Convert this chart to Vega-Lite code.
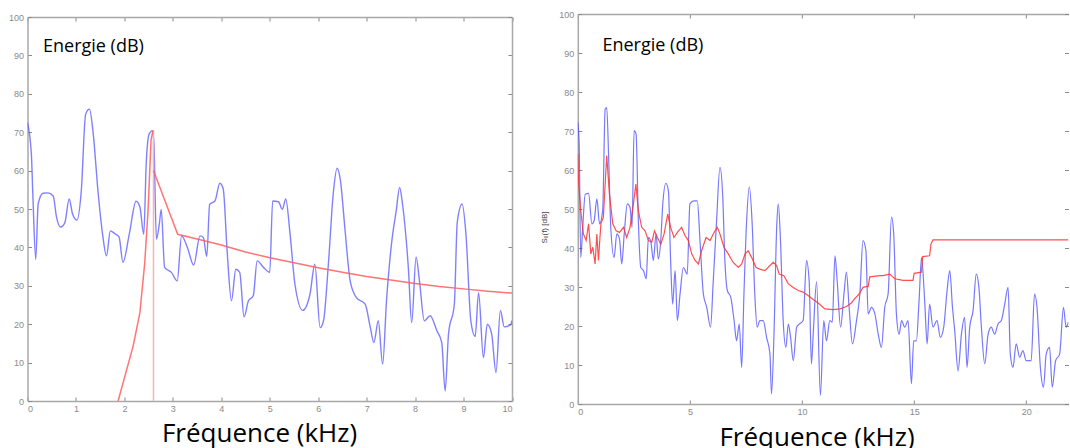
{
  "$schema": "https://vega.github.io/schema/vega-lite/v6.json",
  "background": "white",
  "padding": {"left": 7.5, "top": 10, "right": 0, "bottom": 0},
  "bounds": "flush",
  "center": true,
  "spacing": 65.3,
  "config": {
    "view": {"stroke": null},
    "axis": {
      "grid": false,
      "domainColor": "#a8a8a8",
      "domainWidth": 1.5,
      "tickColor": "#8a8a8a",
      "tickSize": -4,
      "tickWidth": 1,
      "labelColor": "#8a8a8a",
      "labelFont": "Liberation Sans",
      "labelFontSize": 9,
      "labelPadding": 8,
      "titleFont": "Open Sans",
      "titleFontWeight": "normal",
      "titleColor": "#000000"
    }
  },
  "datasets": {
    "leftBlue": [
      {"f": 0, "db": 72.5}, {"f": 0.08, "db": 64.3}, {"f": 0.11, "db": 53.9}, {"f": 0.17, "db": 36.9}, {"f": 0.22, "db": 51.3},
      {"f": 0.32, "db": 54.1}, {"f": 0.42, "db": 54.2}, {"f": 0.53, "db": 53.4}, {"f": 0.6, "db": 47.8}, {"f": 0.68, "db": 45.3},
      {"f": 0.77, "db": 46.4}, {"f": 0.86, "db": 52.6}, {"f": 0.93, "db": 48.7}, {"f": 1.02, "db": 47.1}, {"f": 1.11, "db": 54.7},
      {"f": 1.2, "db": 74.7}, {"f": 1.28, "db": 76}, {"f": 1.35, "db": 70.4}, {"f": 1.46, "db": 53.9}, {"f": 1.55, "db": 43.4},
      {"f": 1.63, "db": 37.8}, {"f": 1.71, "db": 44.3}, {"f": 1.8, "db": 43.6}, {"f": 1.89, "db": 42.7}, {"f": 1.97, "db": 36.1},
      {"f": 2.1, "db": 43.4}, {"f": 2.24, "db": 52}, {"f": 2.32, "db": 50.5}, {"f": 2.4, "db": 43.4}, {"f": 2.45, "db": 61.7},
      {"f": 2.51, "db": 69.5}, {"f": 2.58, "db": 70.4}, {"f": 2.61, "db": 66.9}, {"f": 2.66, "db": 42.1}, {"f": 2.72, "db": 46},
      {"f": 2.76, "db": 49.9}, {"f": 2.83, "db": 34.8}, {"f": 2.97, "db": 33.5}, {"f": 3.09, "db": 31.3}, {"f": 3.18, "db": 43},
      {"f": 3.3, "db": 40}, {"f": 3.43, "db": 35.4}, {"f": 3.56, "db": 43}, {"f": 3.63, "db": 42.6}, {"f": 3.7, "db": 37.6},
      {"f": 3.76, "db": 51.2}, {"f": 3.87, "db": 52.1}, {"f": 3.97, "db": 56.7}, {"f": 4.04, "db": 55.2}, {"f": 4.12, "db": 39.1},
      {"f": 4.21, "db": 26.1}, {"f": 4.3, "db": 34.3}, {"f": 4.38, "db": 33.5}, {"f": 4.47, "db": 21.9}, {"f": 4.56, "db": 26.1},
      {"f": 4.66, "db": 27.4}, {"f": 4.74, "db": 36.5}, {"f": 4.87, "db": 34.8}, {"f": 5.0, "db": 33.5}, {"f": 5.06, "db": 52.1},
      {"f": 5.18, "db": 51.9}, {"f": 5.26, "db": 49.9}, {"f": 5.33, "db": 52.6}, {"f": 5.42, "db": 43.4}, {"f": 5.52, "db": 30.4},
      {"f": 5.68, "db": 23.6}, {"f": 5.83, "db": 27.8}, {"f": 5.93, "db": 35.6}, {"f": 6.04, "db": 19.1}, {"f": 6.11, "db": 20.9},
      {"f": 6.21, "db": 35.6}, {"f": 6.31, "db": 53.9}, {"f": 6.39, "db": 60.6}, {"f": 6.46, "db": 57.3}, {"f": 6.55, "db": 45.1},
      {"f": 6.66, "db": 31.3}, {"f": 6.79, "db": 26.9}, {"f": 6.97, "db": 25.2}, {"f": 7.07, "db": 19.5}, {"f": 7.15, "db": 15.2},
      {"f": 7.24, "db": 20.9}, {"f": 7.33, "db": 9.6}, {"f": 7.41, "db": 26.1}, {"f": 7.52, "db": 41.7}, {"f": 7.61, "db": 49.5},
      {"f": 7.68, "db": 55.6}, {"f": 7.74, "db": 51.3}, {"f": 7.86, "db": 34.8}, {"f": 7.93, "db": 20.4}, {"f": 8.02, "db": 37.5},
      {"f": 8.09, "db": 31.3}, {"f": 8.19, "db": 20.9}, {"f": 8.31, "db": 22.2}, {"f": 8.45, "db": 18.3}, {"f": 8.55, "db": 15.2},
      {"f": 8.62, "db": 2.6}, {"f": 8.69, "db": 17.5}, {"f": 8.81, "db": 25.2}, {"f": 8.87, "db": 46.5}, {"f": 8.97, "db": 51.3},
      {"f": 9.05, "db": 43.4}, {"f": 9.15, "db": 20.9}, {"f": 9.24, "db": 16.8}, {"f": 9.31, "db": 28.2}, {"f": 9.41, "db": 11.3},
      {"f": 9.49, "db": 20}, {"f": 9.58, "db": 17.5}, {"f": 9.67, "db": 7.4}, {"f": 9.76, "db": 23.6}, {"f": 9.84, "db": 19.3},
      {"f": 9.97, "db": 19.8}, {"f": 10.0, "db": 20.9}
    ],
    "leftRed": [
      {"seg": "a", "f": 1.87, "db": 0}, {"seg": "a", "f": 2.18, "db": 14.3}, {"seg": "a", "f": 2.32, "db": 23}, {"seg": "a", "f": 2.42, "db": 36},
      {"seg": "a", "f": 2.49, "db": 50}, {"seg": "a", "f": 2.55, "db": 68}, {"seg": "a", "f": 2.59, "db": 70.5},
      {"seg": "b", "f": 2.6, "db": 60}, {"seg": "b", "f": 3.1, "db": 43.4}, {"seg": "b", "f": 3.5, "db": 42.2}, {"seg": "b", "f": 4, "db": 40.6},
      {"seg": "b", "f": 4.5, "db": 38.8}, {"seg": "b", "f": 5, "db": 37.3}, {"seg": "b", "f": 5.5, "db": 36}, {"seg": "b", "f": 6, "db": 34.7},
      {"seg": "b", "f": 6.5, "db": 33.5}, {"seg": "b", "f": 7, "db": 32.4}, {"seg": "b", "f": 7.5, "db": 31.5}, {"seg": "b", "f": 8, "db": 30.6},
      {"seg": "b", "f": 8.5, "db": 29.8}, {"seg": "b", "f": 9, "db": 29.2}, {"seg": "b", "f": 9.5, "db": 28.6}, {"seg": "b", "f": 10, "db": 28.1}
    ],
    "leftRule": [{"f": 2.6, "lo": 0, "hi": 70.5}],
    "leftText": [{"f": 0.32, "db": 90.9, "label": "Energie (dB)"}],
    "rightBlue": [
      {"f": 0.0, "db": 72.2}, {"f": 0.06, "db": 66.7}, {"f": 0.13, "db": 37.6}, {"f": 0.22, "db": 45.3}, {"f": 0.33, "db": 53.8},
      {"f": 0.48, "db": 54}, {"f": 0.63, "db": 46.2}, {"f": 0.73, "db": 47}, {"f": 0.85, "db": 52.6}, {"f": 0.97, "db": 46.2},
      {"f": 1.11, "db": 49.6}, {"f": 1.22, "db": 75.6}, {"f": 1.29, "db": 76}, {"f": 1.38, "db": 62.4}, {"f": 1.47, "db": 45.3},
      {"f": 1.62, "db": 37.6}, {"f": 1.74, "db": 43.6}, {"f": 1.86, "db": 42.3}, {"f": 1.96, "db": 35.9}, {"f": 2.07, "db": 43.6},
      {"f": 2.21, "db": 51.3}, {"f": 2.33, "db": 50.4}, {"f": 2.42, "db": 45.3}, {"f": 2.51, "db": 70.1}, {"f": 2.6, "db": 69.2},
      {"f": 2.7, "db": 47}, {"f": 2.81, "db": 35}, {"f": 2.93, "db": 34.2}, {"f": 3.05, "db": 32.1}, {"f": 3.15, "db": 42.7},
      {"f": 3.25, "db": 41.9}, {"f": 3.37, "db": 36.8}, {"f": 3.49, "db": 43.6}, {"f": 3.59, "db": 37.2}, {"f": 3.7, "db": 41.9},
      {"f": 3.79, "db": 51.3}, {"f": 3.93, "db": 56.6}, {"f": 4.04, "db": 54.7}, {"f": 4.14, "db": 36.8}, {"f": 4.23, "db": 25.6},
      {"f": 4.34, "db": 34.2}, {"f": 4.44, "db": 21.4}, {"f": 4.56, "db": 28.2}, {"f": 4.71, "db": 35}, {"f": 4.88, "db": 33.3},
      {"f": 5.0, "db": 51.3}, {"f": 5.18, "db": 52.1}, {"f": 5.33, "db": 52.1}, {"f": 5.45, "db": 41.9}, {"f": 5.6, "db": 28.2},
      {"f": 5.75, "db": 24.8}, {"f": 5.92, "db": 19.7}, {"f": 6.04, "db": 31.4}, {"f": 6.19, "db": 47}, {"f": 6.34, "db": 60.7},
      {"f": 6.46, "db": 53.8}, {"f": 6.56, "db": 36.8}, {"f": 6.67, "db": 29.1}, {"f": 6.82, "db": 27.4}, {"f": 6.97, "db": 21.4},
      {"f": 7.08, "db": 16.2}, {"f": 7.2, "db": 20.5}, {"f": 7.31, "db": 9.4}, {"f": 7.41, "db": 28.2}, {"f": 7.53, "db": 47},
      {"f": 7.65, "db": 55.7}, {"f": 7.77, "db": 47}, {"f": 7.9, "db": 27.4}, {"f": 8.0, "db": 19.7}, {"f": 8.12, "db": 21.4},
      {"f": 8.27, "db": 21.4}, {"f": 8.42, "db": 17.1}, {"f": 8.57, "db": 12.8}, {"f": 8.64, "db": 2.6}, {"f": 8.75, "db": 17.9},
      {"f": 8.87, "db": 45.3}, {"f": 8.94, "db": 51.3}, {"f": 9.04, "db": 41.9}, {"f": 9.16, "db": 21.4}, {"f": 9.28, "db": 14.5},
      {"f": 9.39, "db": 20.5}, {"f": 9.49, "db": 17.1}, {"f": 9.61, "db": 11.1}, {"f": 9.76, "db": 19.7}, {"f": 9.88, "db": 20.5},
      {"f": 10.05, "db": 21.4}, {"f": 10.2, "db": 36.8}, {"f": 10.32, "db": 31.4}, {"f": 10.42, "db": 10.3}, {"f": 10.5, "db": 18},
      {"f": 10.65, "db": 31.4}, {"f": 10.82, "db": 2.2}, {"f": 10.97, "db": 21.4}, {"f": 11.09, "db": 16.2}, {"f": 11.24, "db": 21.4},
      {"f": 11.35, "db": 21.0}, {"f": 11.47, "db": 38}, {"f": 11.57, "db": 31.4}, {"f": 11.72, "db": 19.7}, {"f": 11.87, "db": 28.2},
      {"f": 11.98, "db": 33.8}, {"f": 12.1, "db": 24.8}, {"f": 12.25, "db": 15.4}, {"f": 12.43, "db": 21.4}, {"f": 12.58, "db": 28.2},
      {"f": 12.72, "db": 41.9}, {"f": 12.85, "db": 39.3}, {"f": 12.95, "db": 23.1}, {"f": 13.1, "db": 24.8}, {"f": 13.25, "db": 23.1},
      {"f": 13.4, "db": 17.9}, {"f": 13.54, "db": 14.5}, {"f": 13.69, "db": 24.8}, {"f": 13.84, "db": 28.2}, {"f": 13.99, "db": 47.9},
      {"f": 14.09, "db": 43.6}, {"f": 14.21, "db": 23.1}, {"f": 14.33, "db": 17.9}, {"f": 14.44, "db": 21.4}, {"f": 14.58, "db": 19.7},
      {"f": 14.73, "db": 21.4}, {"f": 14.88, "db": 5.2}, {"f": 14.98, "db": 16.2}, {"f": 15.1, "db": 16.2}, {"f": 15.22, "db": 26.5},
      {"f": 15.33, "db": 37.6}, {"f": 15.47, "db": 26.5}, {"f": 15.58, "db": 15.4}, {"f": 15.69, "db": 25.6}, {"f": 15.84, "db": 19.7},
      {"f": 16.02, "db": 21.4}, {"f": 16.17, "db": 17.1}, {"f": 16.32, "db": 19.7}, {"f": 16.47, "db": 29.1}, {"f": 16.59, "db": 34.2},
      {"f": 16.71, "db": 24.8}, {"f": 16.81, "db": 18.8}, {"f": 16.96, "db": 8.5}, {"f": 17.11, "db": 17.9}, {"f": 17.25, "db": 22.2},
      {"f": 17.36, "db": 9.4}, {"f": 17.48, "db": 19.7}, {"f": 17.63, "db": 24}, {"f": 17.77, "db": 33.3}, {"f": 17.89, "db": 29.9},
      {"f": 18.0, "db": 19.7}, {"f": 18.15, "db": 10.3}, {"f": 18.3, "db": 17.9}, {"f": 18.44, "db": 19.7}, {"f": 18.59, "db": 17.9},
      {"f": 18.74, "db": 20.5}, {"f": 18.89, "db": 21.4}, {"f": 19.04, "db": 25.6}, {"f": 19.19, "db": 29.9}, {"f": 19.29, "db": 12.8},
      {"f": 19.41, "db": 9.4}, {"f": 19.55, "db": 15.4}, {"f": 19.71, "db": 12}, {"f": 19.85, "db": 13.7}, {"f": 20.0, "db": 11.1},
      {"f": 20.22, "db": 11.1}, {"f": 20.37, "db": 28.2}, {"f": 20.48, "db": 24.8}, {"f": 20.63, "db": 9.4}, {"f": 20.77, "db": 4.3},
      {"f": 20.89, "db": 12.8}, {"f": 21.04, "db": 14.5}, {"f": 21.16, "db": 4.3}, {"f": 21.31, "db": 11.1}, {"f": 21.49, "db": 12.8},
      {"f": 21.66, "db": 24.8}, {"f": 21.78, "db": 19.7}, {"f": 21.88, "db": 21}
    ],
    "rightRed": [
      {"f": 0.0, "db": 64.1}, {"f": 0.03, "db": 57.3}, {"f": 0.13, "db": 49.6}, {"f": 0.25, "db": 43.6}, {"f": 0.37, "db": 41.9},
      {"f": 0.48, "db": 46.2}, {"f": 0.58, "db": 38.5}, {"f": 0.67, "db": 40.2}, {"f": 0.77, "db": 35.9}, {"f": 0.85, "db": 43.6},
      {"f": 0.92, "db": 36.8}, {"f": 1.03, "db": 46.2}, {"f": 1.14, "db": 47.9}, {"f": 1.29, "db": 63.7}, {"f": 1.41, "db": 53.8},
      {"f": 1.56, "db": 46.2}, {"f": 1.71, "db": 44.4}, {"f": 1.86, "db": 44}, {"f": 2.04, "db": 45.3}, {"f": 2.18, "db": 42.7},
      {"f": 2.33, "db": 45.3}, {"f": 2.48, "db": 51.3}, {"f": 2.59, "db": 56.4}, {"f": 2.7, "db": 49.6}, {"f": 2.85, "db": 45.3},
      {"f": 3.0, "db": 44.4}, {"f": 3.15, "db": 41.9}, {"f": 3.3, "db": 41.5}, {"f": 3.42, "db": 44.4}, {"f": 3.55, "db": 42.7},
      {"f": 3.7, "db": 41}, {"f": 3.85, "db": 43.6}, {"f": 4.01, "db": 48.7}, {"f": 4.14, "db": 45.3}, {"f": 4.29, "db": 42.7},
      {"f": 4.44, "db": 44}, {"f": 4.63, "db": 45.3}, {"f": 4.78, "db": 43.2}, {"f": 4.93, "db": 41.9}, {"f": 5.08, "db": 38.5},
      {"f": 5.23, "db": 36.8}, {"f": 5.38, "db": 35.9}, {"f": 5.52, "db": 39.3}, {"f": 5.72, "db": 42.7}, {"f": 5.9, "db": 41.9},
      {"f": 6.04, "db": 43.6}, {"f": 6.22, "db": 45.3}, {"f": 6.34, "db": 43.6}, {"f": 6.52, "db": 40.2}, {"f": 6.71, "db": 38.5},
      {"f": 6.93, "db": 36.3}, {"f": 7.16, "db": 35}, {"f": 7.31, "db": 35.9}, {"f": 7.46, "db": 38.5}, {"f": 7.6, "db": 39.3},
      {"f": 7.75, "db": 37.6}, {"f": 7.95, "db": 35}, {"f": 8.12, "db": 34.6}, {"f": 8.35, "db": 34.2}, {"f": 8.57, "db": 35.5},
      {"f": 8.72, "db": 36.3}, {"f": 8.87, "db": 35.5}, {"f": 8.98, "db": 33.3}, {"f": 9.19, "db": 32.9}, {"f": 9.39, "db": 30.8},
      {"f": 9.61, "db": 29.9}, {"f": 9.83, "db": 29.1}, {"f": 10.05, "db": 28.7}, {"f": 10.27, "db": 27.8}, {"f": 10.5, "db": 26.8},
      {"f": 10.72, "db": 25.9}, {"f": 11.02, "db": 24.4}, {"f": 11.39, "db": 24.2}, {"f": 11.69, "db": 24.4}, {"f": 11.98, "db": 25},
      {"f": 12.2, "db": 25.9}, {"f": 12.35, "db": 27}, {"f": 12.55, "db": 28.2}, {"f": 12.72, "db": 29.9}, {"f": 12.87, "db": 30.1},
      {"f": 12.95, "db": 30.1}, {"f": 13.02, "db": 32.6}, {"f": 13.47, "db": 32.9}, {"f": 13.62, "db": 32.9}, {"f": 13.91, "db": 33.3},
      {"f": 14.14, "db": 32.1}, {"f": 14.51, "db": 31.7}, {"f": 14.95, "db": 31.7}, {"f": 15.0, "db": 33.5}, {"f": 15.33, "db": 33.8},
      {"f": 15.38, "db": 37.8}, {"f": 15.69, "db": 38}, {"f": 15.75, "db": 41}, {"f": 15.84, "db": 42.1}, {"f": 21.88, "db": 42.1}
    ],
    "rightText": [{"f": 1.1, "db": 90.6, "label": "Energie (dB)"}]
  },
  "hconcat": [
    {
      "width": 484.5,
      "height": 384,
      "resolve": {"axis": {"x": "independent", "y": "independent"}},
      "layer": [
        {
          "data": {"name": "leftBlue"},
          "mark": {"type": "line", "stroke": "#5656ff", "strokeWidth": 1.4, "opacity": 0.75, "clip": true, "interpolate": "monotone"},
          "encoding": {
            "x": {"field": "f", "type": "quantitative", "scale": {"domain": [0, 10], "nice": false},
              "axis": {"orient": "bottom", "values": [0, 1, 2, 3, 4, 5, 6, 7, 8, 9, 10], "labelPadding": 7,
                "title": "Fréquence (kHz)", "titleFontSize": 26, "titleX": 231.5, "titleY": 40,
                "titleBaseline": "alphabetic", "titleAlign": "center", "titleAnchor": null}},
            "y": {"field": "db", "type": "quantitative", "scale": {"domain": [0, 100], "nice": false},
              "axis": {"orient": "left", "values": [0, 10, 20, 30, 40, 50, 60, 70, 80, 90, 100], "title": null}}
          }
        },
        {
          "data": {"name": "leftRule"},
          "mark": {"type": "rule", "stroke": "#ffb0b0", "strokeWidth": 1.5},
          "encoding": {
            "x": {"field": "f", "type": "quantitative", "axis": {"orient": "top", "values": [0, 1, 2, 3, 4, 5, 6, 7, 8, 9, 10], "labels": false, "title": null}},
            "y": {"field": "lo", "type": "quantitative", "axis": {"orient": "right", "values": [0, 10, 20, 30, 40, 50, 60, 70, 80, 90, 100], "labels": false, "title": null}},
            "y2": {"field": "hi"}
          }
        },
        {
          "data": {"name": "leftRed"},
          "mark": {"type": "line", "stroke": "#ff5c5c", "strokeWidth": 1.5, "opacity": 0.85, "clip": true},
          "encoding": {
            "x": {"field": "f", "type": "quantitative", "axis": null},
            "y": {"field": "db", "type": "quantitative", "axis": null},
            "detail": {"field": "seg"}
          }
        },
        {
          "data": {"name": "leftText"},
          "mark": {"type": "text", "align": "left", "baseline": "alphabetic", "font": "Open Sans", "fontSize": 18, "color": "#000000"},
          "encoding": {
            "x": {"field": "f", "type": "quantitative", "axis": null},
            "y": {"field": "db", "type": "quantitative", "axis": null},
            "text": {"field": "label"}
          }
        }
      ]
    },
    {
      "width": 490.7,
      "height": 390,
      "resolve": {"axis": {"x": "independent", "y": "independent"}},
      "layer": [
        {
          "data": {"name": "rightBlue"},
          "mark": {"type": "line", "stroke": "#4a4aff", "strokeWidth": 1.2, "opacity": 0.75, "clip": true, "interpolate": "monotone"},
          "encoding": {
            "x": {"field": "f", "type": "quantitative", "scale": {"domain": [0, 21.885], "nice": false},
              "axis": {"orient": "bottom", "values": [0, 5, 10, 15, 20], "labelPadding": 7,
                "title": "Fréquence (kHz)", "titleFontSize": 26, "titleX": 238.7, "titleY": 41.5,
                "titleBaseline": "alphabetic", "titleAlign": "center", "titleAnchor": null}},
            "y": {"field": "db", "type": "quantitative", "scale": {"domain": [0, 100], "nice": false},
              "axis": {"orient": "left", "values": [0, 10, 20, 30, 40, 50, 60, 70, 80, 90, 100],
                "title": "Sₓ(f) [dB]", "titleFont": "Liberation Sans", "titleFontSize": 8, "titleColor": "#444444",
                "titleX": -33, "titleY": 213, "titleAngle": -90, "titleAlign": "center", "titleBaseline": "middle", "titleAnchor": null}}
          }
        },
        {
          "data": {"name": "rightRed"},
          "mark": {"type": "line", "stroke": "#ff3030", "strokeWidth": 1.2, "opacity": 0.85, "clip": true},
          "encoding": {
            "x": {"field": "f", "type": "quantitative", "axis": {"orient": "top", "values": [0, 5, 10, 15, 20], "labels": false, "title": null}},
            "y": {"field": "db", "type": "quantitative", "axis": {"orient": "right", "domain": false, "values": [0, 10, 20, 30, 40, 50, 60, 70, 80, 90, 100], "labels": false, "title": null}}
          }
        },
        {
          "data": {"name": "rightText"},
          "mark": {"type": "text", "align": "left", "baseline": "alphabetic", "font": "Open Sans", "fontSize": 18, "color": "#000000"},
          "encoding": {
            "x": {"field": "f", "type": "quantitative", "axis": null},
            "y": {"field": "db", "type": "quantitative", "axis": null},
            "text": {"field": "label"}
          }
        }
      ]
    }
  ]
}
